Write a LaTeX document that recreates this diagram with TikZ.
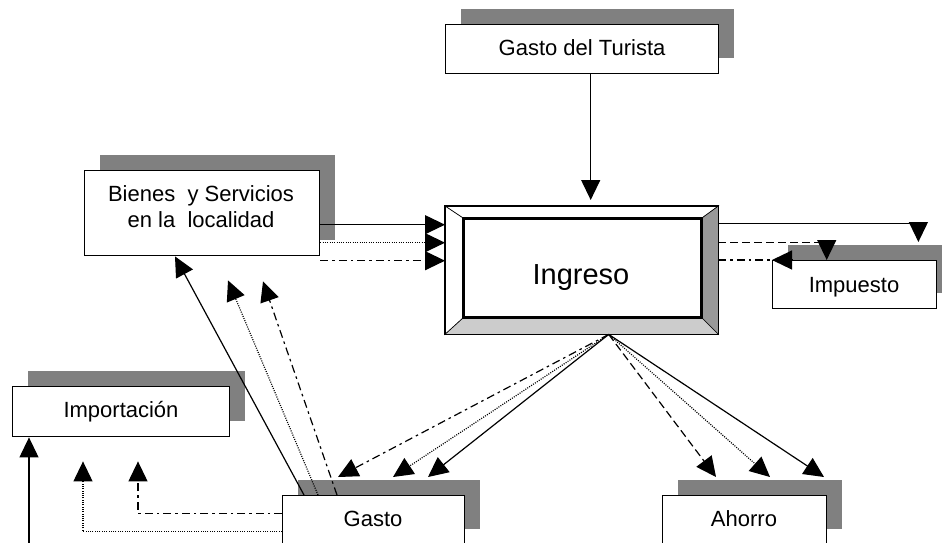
\documentclass[tikz,border=0pt]{standalone}
\usepackage{fontspec}
\setmainfont{Liberation Sans}
\usetikzlibrary{arrows.meta,shadows}
\definecolor{shadowgray}{HTML}{808080}
\definecolor{bevelright}{HTML}{999999}
\definecolor{bevelbottom}{HTML}{CCCCCC}
\tikzset{
  box/.style={draw=black, line width=1.4pt, fill=white, rectangle, inner sep=0pt, anchor=north west},
  shadowed/.style={general shadow={fill=shadowgray, shadow xshift=15pt, shadow yshift=15.5pt}},
  lbl/.style={font=\fontsize{22}{26}\selectfont, anchor=base, inner sep=0pt},
  bigl/.style={font=\fontsize{29}{34}\selectfont, anchor=base, inner sep=0pt},
  conn/.style={line width=1.2pt},
  tip/.style={-{Triangle[length=20pt,width=19pt]}},
  dotline/.style={dash pattern=on 1pt off 1.3pt},
  dashline/.style={dash pattern=on 8pt off 4pt},
  dashdotline/.style={dash pattern=on 8pt off 4pt on 2.5pt off 4pt},
}
\begin{document}
\begin{tikzpicture}[x=1pt,y=-1pt]
\useasboundingbox (0,0) rectangle (942,542);
\fill[white] (0,0) rectangle (942,542);
\clip (0,0) rectangle (942,542);

% boxes
\node[box,shadowed,minimum width=273pt,minimum height=49pt] (turista) at (445,24) {};
\node[box,shadowed,minimum width=235pt,minimum height=85pt] (bienes) at (84,170) {};
\node[box,shadowed,minimum width=164pt,minimum height=48pt] (impuesto) at (772,260) {};
\node[box,shadowed,minimum width=217pt,minimum height=50pt] (importacion) at (12,386) {};
\node[box,shadowed,minimum width=182pt,minimum height=49pt] (gasto) at (282,495) {};
\node[box,shadowed,minimum width=164pt,minimum height=49pt] (ahorro) at (662,495) {};

% Ingreso bevelled box
\node[box,minimum width=272pt,minimum height=127pt] (ingreso) at (445,206) {};
\node[box,line width=2pt,minimum width=237pt,minimum height=98pt] (inner) at (463,218) {};
\filldraw[fill=white,line width=0.6pt] (ingreso.north west) -- (ingreso.north east) -- (inner.north east) -- (inner.north west) -- cycle;
\filldraw[fill=white,line width=0.6pt] (ingreso.north west) -- (inner.north west) -- (inner.south west) -- (ingreso.south west) -- cycle;
\filldraw[fill=bevelright,line width=0.6pt] (ingreso.north east) -- (ingreso.south east) -- (inner.south east) -- (inner.north east) -- cycle;
\filldraw[fill=bevelbottom,line width=0.6pt] (ingreso.south west) -- (ingreso.south east) -- (inner.south east) -- (inner.south west) -- cycle;
\draw[line width=1.4pt] (ingreso.north west) rectangle (ingreso.south east);
\draw[line width=1.8pt] (inner.north west) rectangle (inner.south east);

% texts
\node[lbl] (turistaT) at (582,55) {Gasto del Turista};
\node[lbl] (bienesT1) at (201,201) {Bienes~ y Servicios};
\node[lbl] (bienesT2) at (201,227) {en la~ localidad};
\node[bigl] (ingresoT) at (581,284) {Ingreso};
\node[lbl] (impuestoT) at (854,292) {Impuesto};
\node[lbl] (importacionT) at (121,417) {Importación};
\node[lbl] (gastoT) at (373,526) {Gasto};
\node[lbl] (ahorroT) at (744,526) {Ahorro};

% Turista -> Ingreso
\draw[conn,tip] ([xshift=8.5pt]turista.south) -- ([xshift=9pt,yshift=6pt]ingreso.north);

% Bienes -> Ingreso
\draw[conn,tip] ([yshift=-11.5pt]bienes.east) -- ([yshift=-11.5pt]bienes.east -| ingreso.west);
\draw[conn,tip,dotline] ([yshift=-29.5pt]bienes.east) -- ([yshift=-29.5pt]bienes.east -| ingreso.west);
\draw[conn,tip,dashdotline] ([yshift=-47.5pt]bienes.east) -- ([yshift=-47.5pt]bienes.east -| ingreso.west);

% Ingreso -> Impuesto
\draw[conn,tip] ([yshift=46.5pt]ingreso.east) -| ([xshift=-19pt,yshift=18pt]impuesto.north east);
\draw[conn,tip,dashline] ([yshift=27.5pt]ingreso.east) -| ([xshift=-28pt]impuesto.north);
\coordinate (impback) at ([xshift=20pt]impuesto.north west);
\draw[conn,dashdotline] (impuesto.north west -| ingreso.east) -- (impback);
\draw[conn,tip] (impback) -- (impuesto.north west);

% fan from Ingreso
\coordinate (fan) at ([xshift=27pt]ingreso.south);
\draw[conn,tip,dashdotline] (fan) -- ([xshift=56pt,yshift=18pt]gasto.north west);
\draw[conn,tip,dotline] (fan) -- ([xshift=111pt,yshift=18pt]gasto.north west);
\draw[conn,tip] (fan) -- ([xshift=146pt,yshift=18pt]gasto.north west);
\draw[conn,tip,dashline] (fan) -- ([xshift=54pt,yshift=18pt]ahorro.north west);
\draw[conn,tip,dotline] (fan) -- ([xshift=108pt,yshift=18pt]ahorro.north west);
\draw[conn,tip] (fan) -- ([xshift=162pt,yshift=18pt]ahorro.north west);

% Gasto -> Bienes
\draw[conn,tip] ([xshift=22pt]gasto.north west) -- ([xshift=91pt]bienes.south west);
\draw[conn,tip,dotline] ([xshift=36pt]gasto.north west) -- ([xshift=144pt,yshift=-24pt]bienes.south west);
\draw[conn,tip,dashdotline] ([xshift=55pt]gasto.north west) -- ([xshift=179pt,yshift=-25pt]bienes.south west);

% Gasto -> Importacion
\draw[conn,tip,dashdotline] ([yshift=6.5pt]gasto.west) -| ([xshift=126pt,yshift=-24pt]importacion.south west);
\draw[conn,tip,dotline] ([yshift=-11.5pt]gasto.west) -| ([xshift=71pt,yshift=-24pt]importacion.south west);
\coordinate (offimg) at (29,570);
\draw[conn,tip] (offimg) -- (offimg |- importacion.south);
\end{tikzpicture}
\end{document}
